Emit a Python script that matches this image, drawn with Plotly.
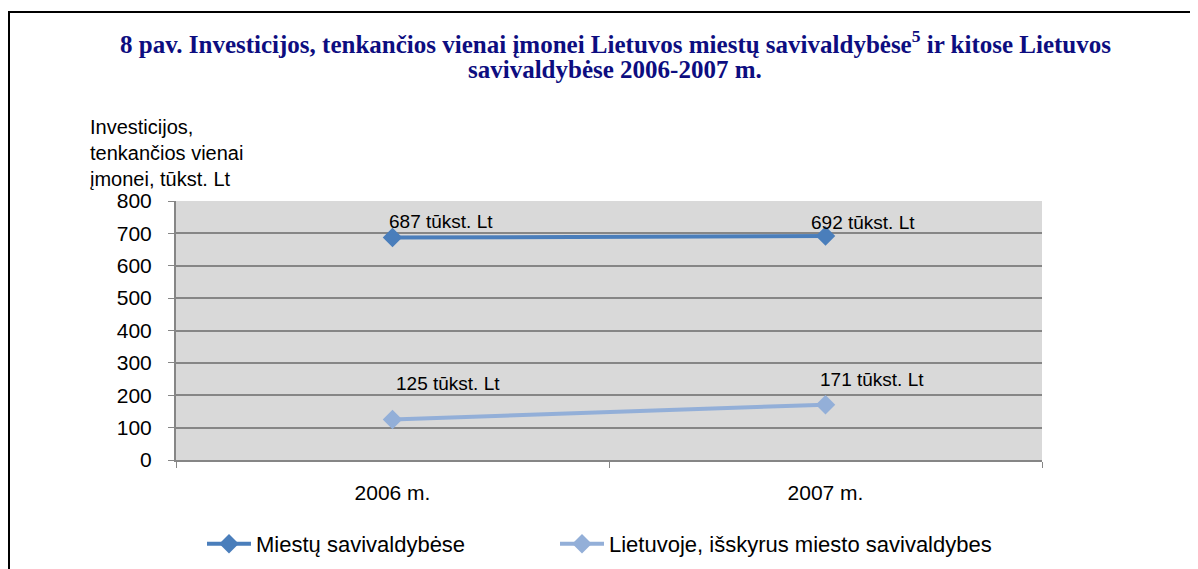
import plotly.graph_objects as go

categories = ["2006 m.", "2007 m."]
series_names = ["Miestų savivaldybėse", "Lietuvoje, išskyrus miesto savivaldybes"]
city_values = [687, 692]
other_values = [125, 171]
label_suffix = " tūkst. Lt"
y_ticks = [0, 100, 200, 300, 400, 500, 600, 700, 800]
title_lines = [
    "<b>8 pav. Investicijos, tenkančios vienai įmonei Lietuvos miestų savivaldybėse<sup>5</sup> ir kitose Lietuvos</b>",
    "<b>savivaldybėse 2006-2007 m.</b>",
]

W, H = 1198, 569
OFF = 8  # page margin of the html body
# plot area in screen pixels
SX0, SX1, SY0, SY1 = 176, 1042, 201, 460
L = SX0 - OFF
T = SY0 - OFF
R = W - (SX1 - OFF)
B = H - (SY1 - OFF)
pw, ph = SX1 - SX0, SY1 - SY0

def px_x(x):
    return (x - SX0) / pw

def px_y(y):
    return (SY1 - y) / ph

dark = "#4A7EBB"
light = "#93AFD8"
font_family = "Liberation Sans, Arial, sans-serif"

fig = go.Figure()
fig.add_trace(go.Scatter(
    x=[0, 1], y=city_values, name=series_names[0], mode="lines+markers",
    line=dict(color=dark, width=4),
    marker=dict(symbol="diamond", size=15, color=dark),
    legend="legend",
))
fig.add_trace(go.Scatter(
    x=[0, 1], y=other_values, name=series_names[1], mode="lines+markers",
    line=dict(color=light, width=4),
    marker=dict(symbol="diamond", size=15, color=light),
    legend="legend2",
))

annotations = []
shifts_city = [(48, 16), (37, 13)]
shifts_other = [(55, 36), (46, 25)]
for i, v in enumerate(city_values):
    annotations.append(dict(x=i, y=v, xref="x", yref="y", text=f"{v}{label_suffix}",
                            showarrow=False, xshift=shifts_city[i][0], yshift=shifts_city[i][1],
                            font=dict(family=font_family, size=19, color="black")))
for i, v in enumerate(other_values):
    annotations.append(dict(x=i, y=v, xref="x", yref="y", text=f"{v}{label_suffix}",
                            showarrow=False, xshift=shifts_other[i][0], yshift=shifts_other[i][1],
                            font=dict(family=font_family, size=19, color="black")))

for line_text, yc in zip(title_lines, [42, 70]):
    annotations.append(dict(
        x=px_x(615), y=px_y(yc), xref="paper", yref="paper", xanchor="center", yanchor="middle",
        text=line_text, showarrow=False, align="center",
        font=dict(family="Liberation Serif, Times New Roman, serif", size=25, color="#0D0D80"),
    ))
annotations.append(dict(
    x=px_x(88), y=px_y(114), xref="paper", yref="paper", xanchor="left", yanchor="top",
    text="Investicijos,<br>tenkančios vienai<br>įmonei, tūkst. Lt",
    showarrow=False, align="left",
    font=dict(family=font_family, size=20, color="black"),
))

shapes = [dict(type="rect", xref="paper", yref="paper",
               x0=px_x(9), y0=px_y(700), x1=px_x(1300), y1=px_y(12),
               line=dict(color="black", width=2), fillcolor="rgba(0,0,0,0)", layer="above")]

legend_common = dict(orientation="h", yanchor="middle", xanchor="left",
                     font=dict(family=font_family, size=22, color="black"),
                     bgcolor="rgba(0,0,0,0)", itemwidth=44)

fig.update_layout(
    width=W, height=H,
    margin=dict(l=L, r=R, t=T, b=B),
    paper_bgcolor="white", plot_bgcolor="#D9D9D9",
    font=dict(family=font_family, size=19, color="black"),
    showlegend=True,
    legend=dict(x=px_x(202), y=px_y(544), **legend_common),
    legend2=dict(x=px_x(555), y=px_y(544), **legend_common),
    annotations=annotations,
    shapes=shapes,
    xaxis=dict(
        tickmode="array", tickvals=[0, 1], ticktext=categories,
        range=[-0.5, 1.5], showgrid=False, zeroline=False,
        showline=True, linecolor="#868686", linewidth=2,
        ticks="", tickfont=dict(size=21, color="black"), ticklabelstandoff=13,
        minor=dict(tickvals=[-0.5, 0.5, 1.5], ticks="outside", ticklen=6,
                   tickcolor="#868686", showgrid=False),
    ),
    yaxis=dict(
        range=[0, 800], tickvals=y_ticks, showgrid=True, gridcolor="#868686", gridwidth=1.5,
        zeroline=False, showline=True, linecolor="#868686", linewidth=2,
        ticks="outside", ticklen=6, tickcolor="#868686",
        tickfont=dict(size=21, color="black"), ticklabelstandoff=12,
    ),
)

fig.write_html("out.html")
